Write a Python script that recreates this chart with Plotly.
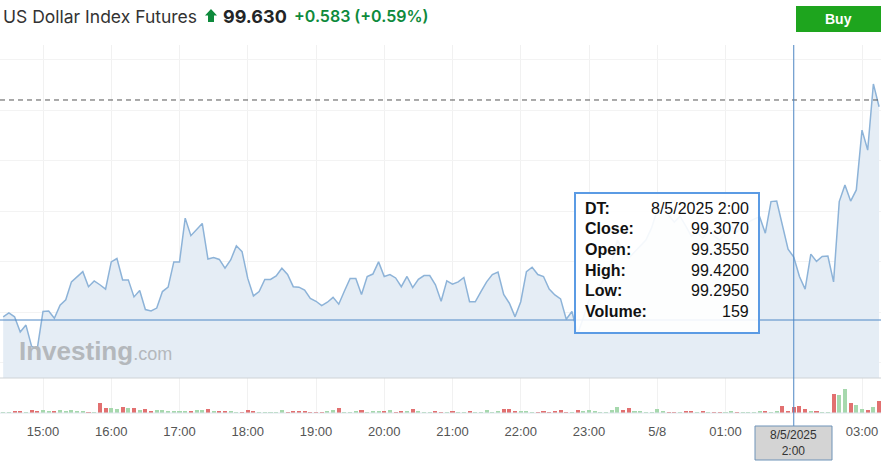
import pandas as pd
import plotly.graph_objects as go

# ---------------- data ----------------
times = pd.date_range("2025-05-07 14:25", periods=155, freq="5min")
close = [
    99.184, 99.192, 99.184, 99.153, 99.167, 99.123, 99.119, 99.195, 99.196, 99.181,
    99.208, 99.219, 99.256, 99.267, 99.277, 99.246, 99.258, 99.250, 99.241, 99.297,
    99.304, 99.260, 99.260, 99.225, 99.238, 99.199, 99.196, 99.202, 99.236, 99.245,
    99.297, 99.297, 99.387, 99.351, 99.364, 99.376, 99.303, 99.306, 99.302, 99.284,
    99.301, 99.330, 99.318, 99.263, 99.227, 99.236, 99.261, 99.261, 99.268, 99.284,
    99.271, 99.246, 99.245, 99.239, 99.222, 99.216, 99.207, 99.214, 99.224, 99.210,
    99.237, 99.263, 99.263, 99.230, 99.267, 99.272, 99.297, 99.267, 99.271, 99.264,
    99.246, 99.267, 99.244, 99.261, 99.269, 99.269, 99.250, 99.216, 99.258, 99.251,
    99.256, 99.265, 99.215, 99.215, 99.236, 99.256, 99.271, 99.276, 99.230, 99.212,
    99.184, 99.215, 99.277, 99.286, 99.271, 99.267, 99.241, 99.229, 99.221, 99.179,
    99.195, 99.149, 99.182, 99.219, 99.223, 99.250, 99.270, 99.297, 99.342, 99.321,
    99.305, 99.317, 99.330, 99.342, 99.367, 99.404, 99.410, 99.393, 99.379, 99.391,
    99.371, 99.350, 99.358, 99.346, 99.363, 99.350, 99.342, 99.358, 99.371, 99.358,
    99.371, 99.379, 99.385, 99.390, 99.356, 99.421, 99.422, 99.369, 99.323, 99.307,
    99.267, 99.241, 99.313, 99.298, 99.308, 99.309, 99.256, 99.421, 99.455, 99.422,
    99.445, 99.568, 99.527, 99.663, 99.616,
]
volume = [
    25, 20, 30, 40, 25, 85, 60, 85, 55, 30, 85, 30, 80, 55, 30, 25, 25,
    280, 140, 140, 110, 170, 140, 140, 85, 110, 55, 85, 85, 55, 30, 30, 30, 30,
    85, 85, 110, 30, 30, 55, 30, 25, 25, 85, 30, 25, 25, 25, 25, 85, 25,
    30, 55, 30, 25, 25, 25, 30, 85, 140, 25, 25, 30, 85, 25, 30, 55, 55,
    85, 25, 30, 30, 110, 30, 25, 25, 30, 25, 25, 30, 25, 25, 30, 25, 25,
    85, 25, 55, 110, 110, 55, 30, 30, 25, 25, 30, 25, 55, 85, 25, 25, 85,
    55, 85, 30, 25, 25, 85, 170, 85, 140, 30, 30, 25, 25, 110, 30, 25, 25,
    25, 55, 55, 25, 30, 25, 25, 25, 25, 30, 25, 25, 25, 25, 30, 30, 25,
    30, 196, 56, 159, 196, 112, 56, 56, 28, 28, 532, 504, 672, 280, 224, 112, 85, 168, 336,
]
tick_times = pd.date_range("2025-05-07 15:00", periods=13, freq="h")
tick_labels = ["15:00", "16:00", "17:00", "18:00", "19:00", "20:00", "21:00",
               "22:00", "23:00", "5/8", "01:00", "02:00", "03:00"]
title_text = "US Dollar Index Futures"
last_price = 99.630
change = 0.583
change_pct = 0.59
tooltip_labels = ["DT:", "Close:", "Open:", "High:", "Low:", "Volume:"]
tooltip_values = ["8/5/2025 2:00", "99.3070", "99.3550", "99.4200", "99.2950", "159"]
cursor_time = pd.Timestamp("2025-05-08 02:00")
cursor_label = "8/5/2025<br>2:00"

# ---------------- layout helpers ----------------
W, H = 881, 471
TOP, BOT = 45, 413          # plot area in pixels
SPLIT = 378                 # price / volume border


def px(x):
    return x / W


def py(y):
    return (BOT - y) / (BOT - TOP)


FONT = "Liberation Sans, Arial, sans-serif"
up_col, dn_col = "#a6d8ad", "#e27070"
vol_colors = [up_col if i == 0 or close[i] >= close[i - 1] else dn_col
              for i in range(len(close))]

fig = go.Figure()
fig.add_trace(go.Scatter(
    x=times, y=close, mode="lines",
    line=dict(color="#8db3d8", width=1.5),
    fill="tozeroy", fillcolor="#e5edf5",
    hoverinfo="skip", showlegend=False,
))
fig.add_trace(go.Bar(
    x=times, y=volume, marker=dict(color=vol_colors, line=dict(width=0)),
    width=216000, yaxis="y2", hoverinfo="skip", showlegend=False,
))

fig.update_layout(
    width=W, height=H,
    margin=dict(l=0, r=0, t=TOP, b=H - BOT),
    paper_bgcolor="white", plot_bgcolor="white",
    bargap=0,
    hovermode=False,
    xaxis=dict(
        range=[pd.Timestamp("2025-05-07 14:22:12"), pd.Timestamp("2025-05-08 03:16:42")],
        anchor="y2", tickmode="array", tickvals=tick_times, ticktext=tick_labels,
        showgrid=True, gridcolor="#f1f1f1", gridwidth=1,
        ticks="outside", ticklen=6, tickcolor="rgba(0,0,0,0)",
        tickfont=dict(family=FONT, size=13, color="#555555"),
        showline=False, zeroline=False, fixedrange=True,
    ),
    yaxis=dict(
        domain=[py(SPLIT), 1], range=[99.0582, 99.7431],
        tick0=99.297, dtick=0.1039, showticklabels=False,
        showgrid=True, gridcolor="#f3f3f3", zeroline=False, fixedrange=True,
    ),
    yaxis2=dict(
        domain=[0, py(SPLIT)], range=[0, 980],
        showticklabels=False, showgrid=False, zeroline=False, fixedrange=True,
    ),
)

shapes = []
shapes.append(dict(type="line", xref="paper", yref="paper", x0=0, x1=1,
                   y0=py(SPLIT), y1=py(SPLIT), line=dict(color="#cfd3d6", width=1)))
shapes.append(dict(type="line", xref="paper", yref="paper", x0=0, x1=1,
                   y0=0, y1=0, line=dict(color="#dde5ec", width=1)))
shapes.append(dict(type="line", xref="paper", yref="y", x0=0, x1=1,
                   y0=last_price, y1=last_price,
                   line=dict(color="#555555", width=1, dash="5px,4px")))
shapes.append(dict(type="line", xref="x", yref="paper", x0=cursor_time, x1=cursor_time,
                   y0=py(426), y1=1, line=dict(color="#4f88c6", width=1)))
shapes.append(dict(type="line", xref="paper", yref="paper", x0=0, x1=1,
                   y0=py(320), y1=py(320), line=dict(color="#4f88c6", width=1)))
shapes.append(dict(type="rect", xref="paper", yref="paper",
                   x0=px(575), x1=px(759), y0=py(333), y1=py(193),
                   fillcolor="rgba(255,255,255,0.9)",
                   line=dict(color="#5b9be4", width=2)))
shapes.append(dict(type="rect", xref="paper", yref="paper",
                   x0=px(755), x1=px(832), y0=py(460), y1=py(426),
                   fillcolor="#d4d4d4", line=dict(color="#6f93b8", width=1)))
shapes.append(dict(type="rect", xref="paper", yref="paper",
                   x0=px(796), x1=px(890), y0=py(32), y1=py(6),
                   fillcolor="#1ea51e", line=dict(width=0)))
pts = [(211, 9), (217, 15.5), (214, 15.5), (214, 22), (208, 22), (208, 15.5), (205, 15.5)]
path = "M " + " L ".join(f"{px(a):.5f},{py(b):.5f}" for a, b in pts) + " Z"
shapes.append(dict(type="path", xref="paper", yref="paper", path=path,
                   fillcolor="#0e8a3c", line=dict(width=0)))
fig.update_layout(shapes=shapes)

ann = []
ann.append(dict(text=title_text, x=px(1), y=py(16), xref="paper", yref="paper",
                xanchor="left", yanchor="middle", showarrow=False,
                font=dict(family="Inter, sans-serif", size=17.5, color="#333333")))
ann.append(dict(text=f"<b>{last_price:.3f}</b>", x=px(221), y=py(16), xref="paper", yref="paper",
                xanchor="left", yanchor="middle", showarrow=False,
                font=dict(family="Inter, sans-serif", size=18, color="#232526")))
ann.append(dict(text=f"+{change:.3f} (+{change_pct:.2f}%)", x=px(292), y=py(16),
                xref="paper", yref="paper", xanchor="left", yanchor="middle", showarrow=False,
                font=dict(family="Inter, sans-serif", size=16, color="#0e8a3c", weight=600)))
ann.append(dict(text="<b>Buy</b>", x=px(838), y=py(19), xref="paper", yref="paper",
                xanchor="center", yanchor="middle", showarrow=False,
                font=dict(family=FONT, size=14, color="white")))
ann.append(dict(text="<b>Investing</b><span style='font-size:18px'>.com</span>",
                x=px(17), y=py(351), xref="paper", yref="paper",
                xanchor="left", yanchor="middle", showarrow=False,
                font=dict(family=FONT, size=26, color="#b4b8bc")))
for k, (lab, val) in enumerate(zip(tooltip_labels, tooltip_values)):
    yy = py(208 + 20.7 * k)
    ann.append(dict(text=f"<b>{lab}</b>", x=px(583), y=yy, xref="paper", yref="paper",
                    xanchor="left", yanchor="middle", showarrow=False,
                    font=dict(family=FONT, size=16, color="#111111")))
    ann.append(dict(text=val, x=px(751), y=yy, xref="paper", yref="paper",
                    xanchor="right", yanchor="middle", showarrow=False,
                    font=dict(family=FONT, size=16, color="#111111")))
ann.append(dict(text=cursor_label, x=cursor_time, y=py(443), xref="x", yref="paper",
                xanchor="center", yanchor="middle", showarrow=False,
                font=dict(family=FONT, size=12, color="#333333")))
fig.update_layout(annotations=ann)

fig.write_html("out.html", config={"displayModeBar": False},
               post_script="document.body.style.margin='0';")
